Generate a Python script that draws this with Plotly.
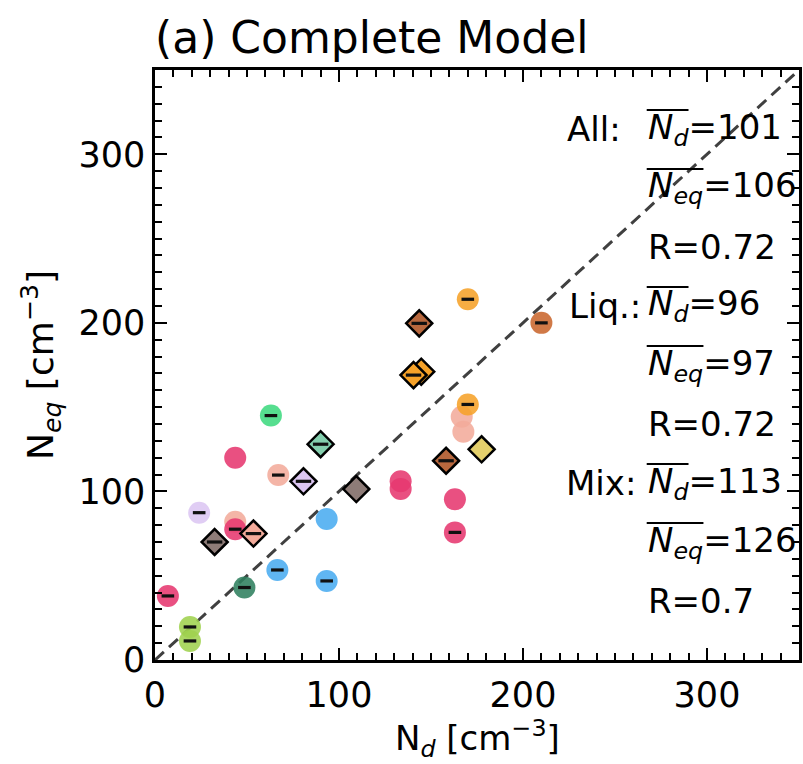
import plotly.graph_objects as go

# ---- data ----
liq_x = [7, 19, 19, 24, 43.6, 43.6, 43.6, 48.6, 63, 67, 66.5, 93.3, 93.3, 133.5, 133.5, 163, 163, 166.7, 167.6, 170, 170, 210]
liq_y = [38, 19.6, 11.3, 87.4, 82, 77.6, 120, 43, 145, 109.7, 53.4, 83.6, 46.9, 106, 101.5, 95.3, 75.7, 144.3, 135.4, 151.6, 214, 200]
liq_c = ["#e63870", "#9fd14f", "#9fd14f", "#dcc6f2", "#f3ab9b", "#e63870", "#e63870", "#2f7f5f", "#3fd97f", "#f3ab9b",
         "#4aacf0", "#4aacf0", "#4aacf0", "#e63870", "#e63870", "#e63870", "#e63870", "#f3ab9b", "#f3ab9b", "#f6a229",
         "#f6a229", "#c9662e"]
liq_minus = [1, 1, 1, 1, 0, 1, 0, 1, 1, 1, 1, 0, 1, 0, 0, 0, 1, 0, 0, 1, 1, 1]

mix_x = [32.4, 53.5, 80.7, 90, 109.4, 144.7, 140.5, 143.6, 158.2, 177.5]
mix_y = [70, 75, 106, 128, 101.4, 171, 169, 199.7, 118.2, 125]
mix_c = ["#8e7c78", "#f3ab9b", "#dcc6f2", "#84cfae", "#8e7c78", "#f6a229", "#f6a229", "#b8683e", "#b8683e", "#e4d06c"]
mix_minus = [1, 1, 1, 1, 0, 0, 1, 1, 1, 0]

one_to_one = [0, 350]
title_text = "(a) Complete Model"
x_title = "N<sub><i>d</i></sub> [cm<sup>−3</sup>]"
y_title = "N<sub><i>eq</i></sub> [cm<sup>−3</sup>]"
stats = [
    ("All:", "101", "106", "0.72"),
    ("Liq.:", "96", "97", "0.72"),
    ("Mix:", "113", "126", "0.7"),
]

FONT = "DejaVu Sans"

fig = go.Figure()
fig.add_trace(go.Scatter(x=one_to_one, y=one_to_one, mode="lines",
                         line=dict(color="#404040", width=3, dash="12px,7px"),
                         hoverinfo="skip", showlegend=False))
fig.add_trace(go.Scatter(x=liq_x, y=liq_y, mode="markers",
                         marker=dict(symbol="circle", size=22, color=liq_c, opacity=0.88,
                                     line=dict(width=0)),
                         showlegend=False))
fig.add_trace(go.Scatter(x=mix_x, y=mix_y, mode="markers",
                         marker=dict(symbol="diamond", size=20, color=mix_c,
                                     line=dict(width=2.5, color="black")),
                         showlegend=False))
lmx = [x for x, m in zip(liq_x, liq_minus) if m]
lmy = [y for y, m in zip(liq_y, liq_minus) if m]
fig.add_trace(go.Scatter(x=lmx, y=lmy, mode="markers",
                         marker=dict(symbol="line-ew", size=9, color="black",
                                     line=dict(width=3.2, color="#111111")),
                         showlegend=False))
mmx = [x for x, m in zip(mix_x, mix_minus) if m]
mmy = [y for y, m in zip(mix_y, mix_minus) if m]
fig.add_trace(go.Scatter(x=mmx, y=mmy, mode="markers",
                         marker=dict(symbol="line-ew", size=11, color="black",
                                     line=dict(width=3.2, color="#111111")),
                         showlegend=False))

# annotation positions in axes fraction
L, R, T, B = 155, 802, 70, 660
W, H = 803, 764
PW, PH = R - L, B - T
label_right = [625, 645, 640]
val_left = 648
bar_w = {"d": 42, "eq": 57}
ann = []
bars = []
for g, (lab, nd, neq, r) in enumerate(stats):
    yc = [0.9 - 0.3 * g, 0.8 - 0.3 * g, 0.7 - 0.3 * g]
    ann.append(dict(text=lab, x=(label_right[g] - L) / PW, y=yc[0], xanchor="right", yanchor="middle"))
    ann.append(dict(text="<i>N<sub>d</sub></i>=" + nd,
                    x=(val_left - L) / PW, y=yc[0], xanchor="left", yanchor="middle"))
    ann.append(dict(text="<i>N<sub>eq</sub></i>=" + neq,
                    x=(val_left - L) / PW, y=yc[1], xanchor="left", yanchor="middle"))
    ann.append(dict(text="R=" + r, x=(val_left - L) / PW, y=yc[2], xanchor="left", yanchor="middle"))
    bars.append((yc[0], bar_w["d"]))
    bars.append((yc[1], bar_w["eq"]))
for a in ann:
    a.update(xref="paper", yref="paper", showarrow=False, font=dict(size=34, color="black", family=FONT))
    fig.add_annotation(**a)
# overline bars for mean symbols (text decoration)
for yc, bw in bars:
    yb = yc + 19 / PH
    fig.add_shape(type="line", xref="paper", yref="paper",
                  x0=(val_left + 1 - L) / PW, x1=(val_left + 1 + bw - L) / PW, y0=yb, y1=yb,
                  line=dict(color="black", width=2))

# x-axis title as annotation below tick labels
fig.add_annotation(text=x_title, xref="paper", yref="paper", x=0.5, y=(B - 763.5) / PH,
                   xanchor="center", yanchor="bottom", showarrow=False, borderpad=0,
                   font=dict(size=34, color="black", family=FONT))

axis_common = dict(
    range=[0, 350], showline=True, linewidth=2.5, linecolor="black", mirror="ticks",
    ticks="inside", ticklen=12, tickwidth=2, tickcolor="black", dtick=100, tick0=0,
    minor=dict(dtick=10, ticks="inside", ticklen=7, tickwidth=1.8, tickcolor="black"),
    showgrid=False, zeroline=False,
    tickfont=dict(size=35, color="black", family=FONT),
)
fig.update_xaxes(**axis_common, ticklabelstandoff=2)
fig.update_yaxes(**axis_common,
                 title=dict(text=y_title,
                            font=dict(size=36, color="black", family=FONT), standoff=14))

fig.update_layout(
    width=W, height=H,
    margin=dict(l=L, r=W - R, t=T, b=H - B, pad=0),
    paper_bgcolor="white", plot_bgcolor="white",
    font=dict(family=FONT, color="black"),
    title=dict(text=title_text, x=L / W, xanchor="left", xref="container",
               y=1 - 38 / H, yanchor="middle", yref="container",
               font=dict(size=44, color="black", family=FONT)),
)
fig.write_html("out.html")
